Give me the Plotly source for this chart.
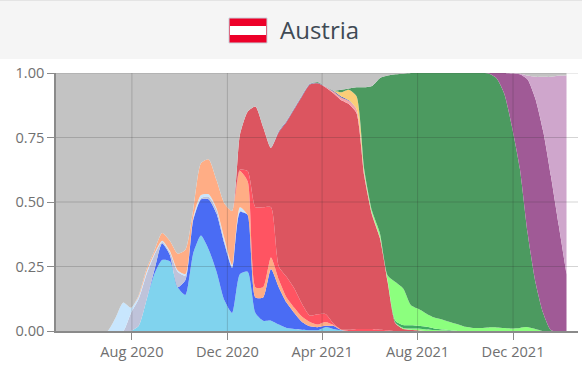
import numpy as np
import pandas as pd
import plotly.graph_objects as go

W, H = 582, 375
L_PX, R_PX, T_PX, B_PX = 56, 578, 73, 331

title = "Austria"
tick_dates = ["2020-08-01", "2020-12-01", "2021-04-01", "2021-08-01", "2021-12-01"]
tick_labels = ["Aug 2020", "Dec 2020", "Apr 2021", "Aug 2021", "Dec 2021"]
y_ticks = [0, 0.25, 0.5, 0.75, 1.0]
y_labels = ["0.00", "0.25", "0.50", "0.75", "1.00"]

# Upper edge of each stacked band, sampled about every ten days from 2020-07-01.
light_blue = [0,0,0,0,.02,.12,.22,.275,.27,.17,.14,.30,.37,.315,.23,.12,.07,.22,.23,.07,.04,.04,.025,.012,.008,.005,.003,.003,.015,.008,.003] + [0]*29
blue = [0,0,0,0,0,0,.235,.34,.295,.17,.198,.43,.51,.51,.455,.34,.245,.46,.45,.13,.13,.24,.17,.11,.07,.035,.018,.015,.02,.02,.004] + [0]*29
lavender = [0,0,0,.07,.125,.22,.295,.345,.305,.23,.215,.435,.515,.52,.47,.35,.25,.465] + [0]*42
pale_blue = [0,.05,.11,.09,.135,.23,.30,.35,.31,.235,.22,.44,.527,.53,.475,.36,.255,.48] + [0]*42
orange = [0,0,0,0,.14,.24,.31,.38,.35,.30,.315,.47,.65,.665,.585,.495,.465,.62,.58,.17,.17,.285,.20,.13,.09,.055,.035,.025,.035,.024,.006] + [0]*29
red = [0]*17 + [.625,.62,.48,.48,.48,.25,.21,.165,.105,.06,.065,.066,.03,.006,.005,.008,.008,.008,.005,.003] + [0]*23
dark_red = [0]*17 + [.76,.85,.87,.79,.71,.77,.81,.86,.91,.955,.96,.945,.922,.895,.88,.845,.60,.45,.36,.19,.03,.008,.005,.002] + [0]*19
pink = [0]*28 + [.947,.928,.905,.892,.86,.61,.455,.365,.195,.032] + [0]*22
slate = [0]*22 + [.774,.814,.864,.914,.958,.962,.948,.932,.91,.895] + [0]*28
yellow = [0]*30 + [.925,.935,.91,.615] + [0]*26
lime_low = [0]*38 + [.012,.01,.01,.006,.004,.003,.002] + [0]*15
mid_green = [0]*37 + [.04,.023,.022,.02,.016,.01,.006,.004] + [0]*15
lime = [0]*33 + [.625,.465,.38,.215,.19,.165,.10,.085,.067,.052,.045,.035,.026,.016,.012,.012,.014,.014,.012,.01,.012,.015,.008] + [0]*4
green = [0]*27 + [.965,.945,.93,.935,.94,.945,.945,.95,.98,.99,.995,.997,1,1,1,1,1,1,1,1,1,1,.998,.98,.92,.79,.63,.38,.19,.07,.003,0,0]
green = green[:60]
purple = [0]*49 + [1,1,1,.998,.995,.975,.90,.775,.60,.41,.22]
light_purple = [0]*49 + [1,1,1,1,.998,.99,.985,.985,.985,.99,.99]

bands = [
    ("Light blue", light_blue, "#80D3EE"),
    ("Blue", blue, "#4A6CF4"),
    ("Lavender", lavender, "#BFC3DA"),
    ("Pale blue", pale_blue, "#C8E6FE"),
    ("Orange", orange, "#FFAD85"),
    ("Red", red, "#FF5462"),
    ("Dark red", dark_red, "#DC5560"),
    ("Pink", pink, "#F5A3AA"),
    ("Slate", slate, "#6A72B0"),
    ("Yellow", yellow, "#FACD78"),
    ("Lime low", lime_low, "#8CFF7E"),
    ("Mid green", mid_green, "#3FAE62"),
    ("Lime", lime, "#8CFF7E"),
    ("Green", green, "#4C9A60"),
    ("Purple", purple, "#A05A96"),
    ("Light purple", light_purple, "#CFA6CC"),
]

lead_in = 7  # empty samples before the first band appears
step = pd.Timedelta(minutes=14310)
dates = pd.Timestamp("2020-07-01") + step * (np.arange(60 + lead_in) - lead_in)
tops = np.array([[0.0] * lead_in + list(b[1]) for b in bands])
tops = np.maximum.accumulate(tops, axis=0)
shares = np.diff(np.vstack([np.zeros(tops.shape[1]), tops]), axis=0)
remainder = 1 - tops[-1]

fig = go.Figure()
for (name, _, color), share in zip(bands, shares):
    fig.add_trace(go.Scatter(x=dates, y=share, name=name, mode="none", stackgroup="one",
                             fillcolor=color, line=dict(shape="spline", smoothing=0.6), hoverinfo="skip"))
fig.add_trace(go.Scatter(x=dates, y=remainder, name="Other", mode="none", stackgroup="one",
                         fillcolor="#C3C3C3", line=dict(shape="spline", smoothing=0.6), hoverinfo="skip"))

px = lambda v: (v - L_PX) / (R_PX - L_PX)
py = lambda v: (B_PX - v) / (B_PX - T_PX)
shapes = [
    dict(type="rect", xref="paper", yref="paper", x0=px(0), x1=px(W), y0=py(59), y1=py(1),
         fillcolor="#F5F5F5", line=dict(width=0), layer="below"),
    dict(type="line", xref="paper", yref="paper", x0=px(0), x1=px(W), y0=py(0.5), y1=py(0.5),
         line=dict(color="#E4E4E4", width=1)),
    dict(type="rect", xref="paper", yref="paper", x0=px(229), x1=px(267), y0=py(43), y1=py(18),
         fillcolor="#ED0029", line=dict(color="#C9D3DC", width=1)),
    dict(type="rect", xref="paper", yref="paper", x0=px(230), x1=px(266), y0=py(35), y1=py(26),
         fillcolor="#FFFFFF", line=dict(width=0)),
]
grid = "rgba(40,40,40,0.2)"
for d in tick_dates:
    shapes.append(dict(type="line", xref="x", yref="paper", x0=d, x1=d, y0=0, y1=1,
                       line=dict(color=grid, width=1), layer="above"))
for v in y_ticks[1:]:
    shapes.append(dict(type="line", xref="paper", yref="y", x0=0, x1=1, y0=v, y1=v,
                       line=dict(color=grid, width=1), layer="above"))

font = dict(family="Open Sans", size=14.6, color="#707070")
fig.update_layout(
    width=W, height=H, showlegend=False,
    margin=dict(l=L_PX, r=W - R_PX, t=T_PX, b=H - B_PX, pad=0),
    paper_bgcolor="#FFFFFF", plot_bgcolor="#FFFFFF",
    shapes=shapes,
    annotations=[dict(text=title, xref="paper", yref="paper", x=px(278), y=py(30), xanchor="left",
                      yanchor="middle", showarrow=False,
                      font=dict(family="Open Sans", size=24, color="#3F4A54"))],
    xaxis=dict(range=["2020-04-26", "2022-02-22"], tickvals=tick_dates, ticktext=tick_labels,
               ticks="outside", ticklen=7, tickcolor="#8A8A8A", tickwidth=1, showgrid=False,
               showline=True, linecolor="#8A8A8A", linewidth=1.5, tickfont=font, layer="above traces",
               zeroline=False),
    yaxis=dict(range=[0, 1], tickvals=y_ticks, ticktext=y_labels, ticks="outside", ticklen=7,
               tickcolor="#8A8A8A", tickwidth=1, showgrid=False, showline=True, linecolor="#8A8A8A",
               linewidth=1.5, tickfont=font, layer="above traces", zeroline=False),
)

fig.write_html("out.html", config={"displayModeBar": False},
               post_script="document.body.style.margin='0';document.body.style.overflow='hidden';")
